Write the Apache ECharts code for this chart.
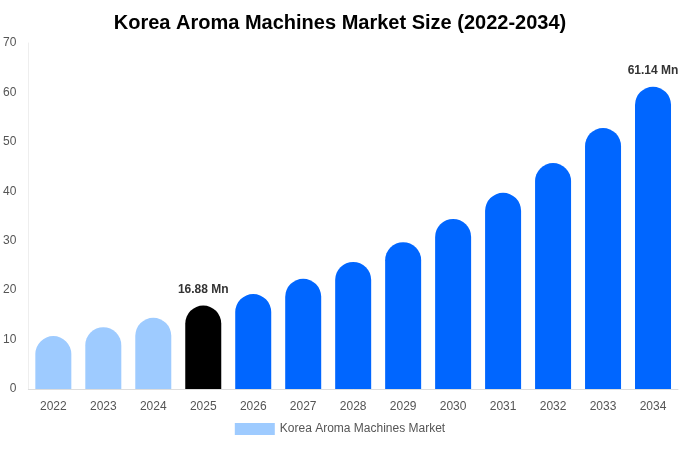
<!DOCTYPE html>
<html><head><meta charset="utf-8">
<script src="https://cdn.jsdelivr.net/npm/echarts@6/dist/echarts.min.js"></script>
<style>html,body{margin:0;padding:0;background:#fff}#c{width:680px;height:450px}</style>
</head><body><div id="c"></div>
<script>
const categories = ['2022','2023','2024','2025','2026','2027','2028','2029','2030','2031','2032','2033','2034'];
const values = [10.7,12.5,14.4,16.88,19.2,22.3,25.7,29.7,34.4,39.7,45.7,52.8,61.14];
const colors = ['#9ecbff','#9ecbff','#9ecbff','#000000','#0066ff','#0066ff','#0066ff','#0066ff','#0066ff','#0066ff','#0066ff','#0066ff','#0066ff'];
const labelled = {3:'16.88 Mn',12:'61.14 Mn'};
const chart = echarts.init(document.getElementById('c'));
chart.setOption({
  title:{text:'Korea Aroma Machines Market Size (2022-2034)',left:'center',top:8,textStyle:{fontFamily:'Liberation Sans, Arial',fontSize:20,fontWeight:'bold',color:'#000'}},
  legend:{bottom:10,itemWidth:40,itemHeight:12,icon:'rect',textStyle:{color:'#555',fontSize:12},data:[{name:'Korea Aroma Machines Market',itemStyle:{color:'#9ecbff'}}]},
  grid:{left:28,right:2,top:43,bottom:61},
  xAxis:{type:'category',data:categories,axisTick:{show:false},axisLine:{lineStyle:{color:'#ddd'}},axisLabel:{color:'#555',fontSize:12,margin:12}},
  yAxis:{type:'value',min:0,max:70,interval:10,splitLine:{show:false},axisLine:{show:true,lineStyle:{color:'#eee'}},axisLabel:{color:'#555',fontSize:12,margin:12}},
  series:[{name:'Korea Aroma Machines Market',type:'bar',barWidth:36,
    data:values.map((v,i)=>({value:v,itemStyle:{color:colors[i],borderRadius:[18,18,0,0]},
      label:{show:!!labelled[i],position:'top',distance:10,formatter:labelled[i]||'',fontWeight:'bold',fontSize:12,color:'#333'}}))}]
});
</script></body></html>
